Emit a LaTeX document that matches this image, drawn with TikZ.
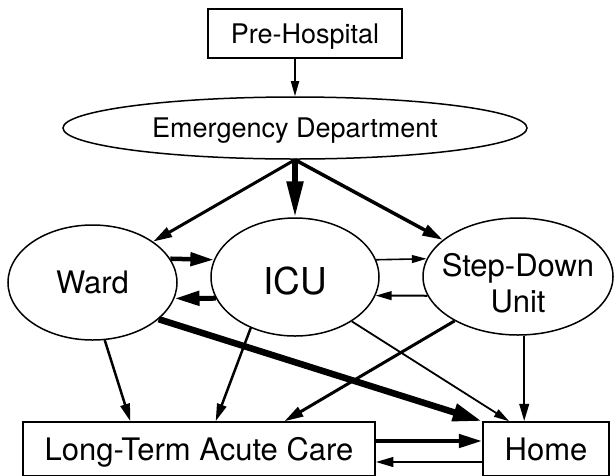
\documentclass[tikz,border=0pt]{standalone}
\usepackage{fontspec}
\setmainfont{TeX Gyre Heros}
\usetikzlibrary{arrows.meta,shapes.geometric}

\begin{document}
\begin{tikzpicture}[
  x=1pt,y=-1pt,
  unitbox/.style={draw,line width=1.5pt,rectangle,inner sep=0pt,text depth=0pt},
  unitoval/.style={draw,line width=1.5pt,ellipse,inner sep=0pt,text depth=0pt},
  flow/.style={line width=#1,-{Triangle[length=10pt 3,width=5pt 1.8]}}
]
\useasboundingbox (0,0) rectangle (615,475);
% admission
\node[unitbox,minimum width=194pt,minimum height=49pt,text height=19.4pt,font=\fontsize{27}{32}\selectfont] (pre) at (305,33.5) {Pre-Hospital};
\node[unitoval,minimum width=464pt,minimum height=62pt,text height=19.4pt,font=\fontsize{27}{32}\selectfont] (ed) at (295,128) {Emergency Department};
% inpatient units
\node[unitoval,minimum width=169pt,minimum height=115pt,text height=22.2pt,font=\fontsize{31}{37}\selectfont] (ward) at (92.5,282.5) {Ward};
\node[unitoval,minimum width=168pt,minimum height=118pt,text height=34pt,font=\fontsize{37}{44}\selectfont] (icu) at (295,277) {ICU};
\node[unitoval,minimum width=190pt,minimum height=117pt,align=center,font=\fontsize{31}{36}\selectfont] (sdu) at (518,276.5) {\rule{0pt}{36pt}\makebox[100pt]{Step-Down}\\Unit};
% discharge
\node[unitbox,minimum width=352pt,minimum height=54pt,text height=22.3pt,font=\fontsize{31}{37}\selectfont] (ltac) at (199,449) {Long-Term Acute Care};
\node[unitbox,minimum width=126pt,minimum height=54pt,text height=22.2pt,font=\fontsize{31}{37}\selectfont] (home) at (546,449) {Home};
% transfers
\draw[flow=1.7pt] (pre.south -| ed.north) -- (ed.north);
\draw[flow=3pt] (ed.south) -- (ward.34);
\draw[line width=5.5pt,-{Triangle[length=36pt,width=16pt]}] (ed.south) -- (icu.north);
\draw[flow=3.5pt] (ed.south) -- (sdu.154);
\draw[flow=4.5pt] (ward.17) -- (icu.168);
\draw[flow=5pt] (icu.195) -- (ward.-11);
\draw[flow=1.6pt] (icu.12) -- (sdu.169);
\draw[flow=2pt] (sdu.192) -- (icu.-13);
\draw[flow=6.5pt] (ward.-29) -- (home.north west);
\draw[flow=2.5pt] (ward.-78) -- (ltac.158);
\draw[flow=2.5pt] (icu.229) -- (ltac.59);
\draw[flow=1.8pt] (icu.-38) -- (home.143);
\draw[flow=3pt] (sdu.215) -- (ltac.18);
\draw[flow=2.5pt] (sdu.-84) -- (sdu.-84 |- home.north);
\draw[flow=4.5pt] ([yshift=8pt]ltac.east) -- ([yshift=8pt]home.west);
\draw[flow=2.5pt] ([yshift=-13pt]home.west) -- ([yshift=-13pt]ltac.east);
\end{tikzpicture}
\end{document}
